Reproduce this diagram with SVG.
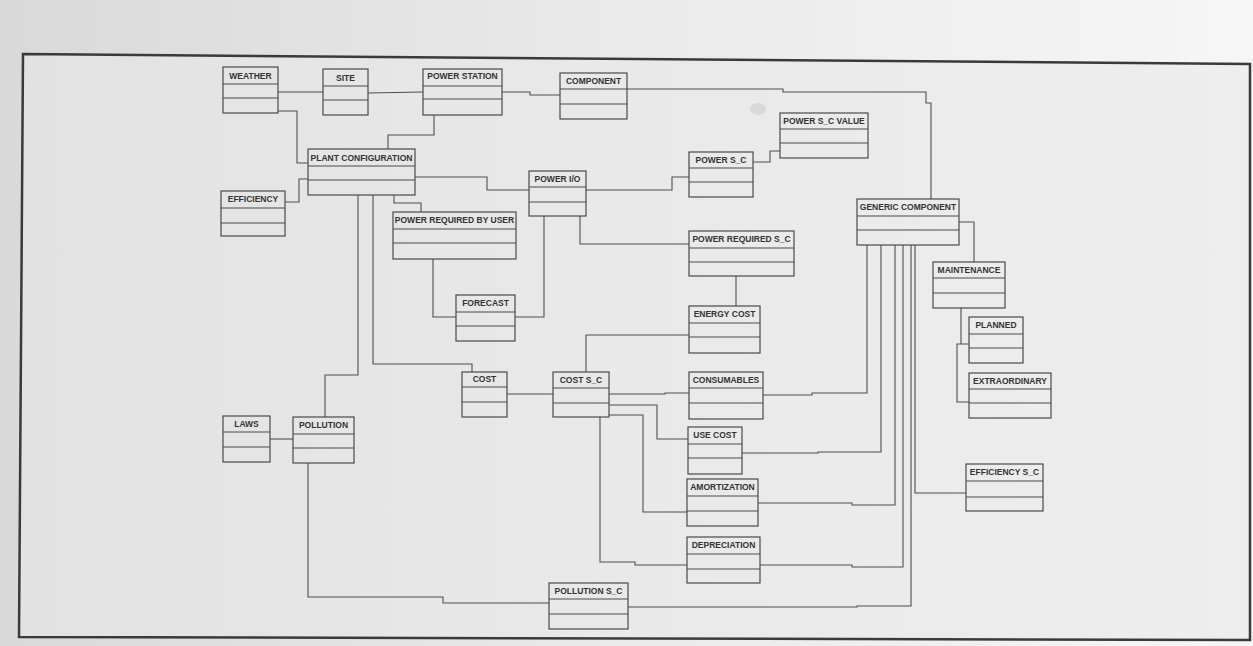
<svg xmlns="http://www.w3.org/2000/svg" width="1253" height="646" viewBox="0 0 1253 646">
  <defs>
    <linearGradient id="page" x1="0" y1="0" x2="1" y2="0">
      <stop offset="0" stop-color="#d9d9d9"/>
      <stop offset="0.5" stop-color="#eaeaea"/>
      <stop offset="1" stop-color="#f6f6f6"/>
    </linearGradient>
    <linearGradient id="sheet" x1="0" y1="0" x2="1" y2="0">
      <stop offset="0" stop-color="#e2e2e2"/>
      <stop offset="0.5" stop-color="#e9e9e9"/>
      <stop offset="1" stop-color="#eeeeee"/>
    </linearGradient>
    <style>
      .box { fill: none; stroke: #4a4a4a; stroke-width: 1.2; }
      .div { stroke: #4a4a4a; stroke-width: 1.1; }
      .title { font-family: "Liberation Sans", Arial, sans-serif; font-size: 8.5px; font-weight: bold; fill: #333333; text-anchor: middle; }
      .conn polyline, .conn line { fill: none; stroke: #4f4f4f; stroke-width: 1.1; }
    </style>
  </defs>

  <rect x="0" y="0" width="1253" height="646" fill="url(#page)"/>
  <polygon points="23,54 1250,64 1250,640 19,637" fill="url(#sheet)" stroke="#3a3a3a" stroke-width="2.5"/>
  <ellipse cx="758" cy="109" rx="8" ry="6" fill="#d4d4d4" opacity="0.8"/>

  <g id="connectors" class="conn">
    <line x1="278" y1="92" x2="323" y2="92"/>
    <line x1="368" y1="93" x2="423" y2="92"/>
    <polyline points="502,92 530,92 530,95 560,95"/>
    <polyline points="627,89 783,89 783,92 926,92 926,103 931,103 931,199"/>
    <polyline points="278,111 297,111 297,163 308,163"/>
    <polyline points="434,115 434,135 388,135 388,149"/>
    <polyline points="415,177 487,177 487,190 529,190"/>
    <polyline points="586,190 672,190 672,177 689,177"/>
    <polyline points="753,162 770,162 770,151 780,151"/>
    <polyline points="285,202 299,202 299,179 308,179"/>
    <polyline points="394,195 394,203 421,203 421,212"/>
    <polyline points="358,195 358,375 325,375 325,417"/>
    <polyline points="373,195 373,364 472,364 472,372"/>
    <polyline points="433,259 433,317 456,317"/>
    <polyline points="515,317 544,317 544,216"/>
    <polyline points="580,216 580,244 689,244"/>
    <line x1="736" y1="276" x2="736" y2="306"/>
    <polyline points="689,335 586,335 586,372"/>
    <line x1="507" y1="394" x2="553" y2="394"/>
    <polyline points="609,394 665,394 665,393 689,393"/>
    <polyline points="763,395 812,395 812,393 867,393 867,245"/>
    <polyline points="609,405 657,405 657,439 688,439"/>
    <polyline points="609,415 643,415 643,512 687,512"/>
    <polyline points="600,417 600,562 635,562 635,565 687,565"/>
    <polyline points="742,453 818,453 818,452 881,452 881,245"/>
    <polyline points="758,503 852,503 852,505 895,505 895,245"/>
    <polyline points="760,565 852,565 852,567 903,567 903,245"/>
    <polyline points="628,607 857,607 857,606 911,606 911,245"/>
    <polyline points="915,245 915,493 966,493"/>
    <polyline points="308,463 308,597 443,597 443,603 549,603"/>
    <line x1="270" y1="439" x2="293" y2="439"/>
    <polyline points="959,222 974,222 974,262"/>
    <polyline points="961,308 961,344 969,344"/>
    <polyline points="961,344 957,344 957,402 969,402"/>
  </g>

  <g id="weather"><rect class="box" x="223" y="67" width="55" height="46"/><line class="div" x1="223" y1="84" x2="278" y2="84"/><line class="div" x1="223" y1="98" x2="278" y2="98"/><text class="title" x="250.5" y="79">WEATHER</text></g>
  <g id="site"><rect class="box" x="323" y="69" width="45" height="46"/><line class="div" x1="323" y1="86" x2="368" y2="86"/><line class="div" x1="323" y1="100" x2="368" y2="100"/><text class="title" x="345.5" y="81">SITE</text></g>
  <g id="power-station"><rect class="box" x="423" y="69" width="79" height="46"/><line class="div" x1="423" y1="86" x2="502" y2="86"/><line class="div" x1="423" y1="99" x2="502" y2="99"/><text class="title" x="462.5" y="79">POWER STATION</text></g>
  <g id="component"><rect class="box" x="560" y="73" width="67" height="46"/><line class="div" x1="560" y1="89" x2="627" y2="89"/><line class="div" x1="560" y1="104" x2="627" y2="104"/><text class="title" x="593.5" y="84">COMPONENT</text></g>
  <g id="plant-configuration"><rect class="box" x="308" y="149" width="107" height="46"/><line class="div" x1="308" y1="166" x2="415" y2="166"/><line class="div" x1="308" y1="180" x2="415" y2="180"/><text class="title" x="361.5" y="161">PLANT CONFIGURATION</text></g>
  <g id="power-io"><rect class="box" x="529" y="171" width="57" height="45"/><line class="div" x1="529" y1="187" x2="586" y2="187"/><line class="div" x1="529" y1="202" x2="586" y2="202"/><text class="title" x="557.5" y="182">POWER I/O</text></g>
  <g id="power-sc"><rect class="box" x="689" y="152" width="64" height="45"/><line class="div" x1="689" y1="168" x2="753" y2="168"/><line class="div" x1="689" y1="182" x2="753" y2="182"/><text class="title" x="721" y="163">POWER S_C</text></g>
  <g id="power-sc-value"><rect class="box" x="780" y="113" width="88" height="45"/><line class="div" x1="780" y1="129" x2="868" y2="129"/><line class="div" x1="780" y1="143" x2="868" y2="143"/><text class="title" x="824" y="124">POWER S_C VALUE</text></g>
  <g id="generic-component"><rect class="box" x="857" y="199" width="102" height="46"/><line class="div" x1="857" y1="216" x2="959" y2="216"/><line class="div" x1="857" y1="230" x2="959" y2="230"/><text class="title" x="908" y="210">GENERIC COMPONENT</text></g>
  <g id="maintenance"><rect class="box" x="933" y="262" width="72" height="46"/><line class="div" x1="933" y1="278" x2="1005" y2="278"/><line class="div" x1="933" y1="293" x2="1005" y2="293"/><text class="title" x="969" y="273">MAINTENANCE</text></g>
  <g id="planned"><rect class="box" x="969" y="317" width="54" height="46"/><line class="div" x1="969" y1="334" x2="1023" y2="334"/><line class="div" x1="969" y1="348" x2="1023" y2="348"/><text class="title" x="996" y="328">PLANNED</text></g>
  <g id="extraordinary"><rect class="box" x="969" y="373" width="82" height="45"/><line class="div" x1="969" y1="389" x2="1051" y2="389"/><line class="div" x1="969" y1="403" x2="1051" y2="403"/><text class="title" x="1010" y="384">EXTRAORDINARY</text></g>
  <g id="efficiency"><rect class="box" x="221" y="191" width="64" height="45"/><line class="div" x1="221" y1="208" x2="285" y2="208"/><line class="div" x1="221" y1="223" x2="285" y2="223"/><text class="title" x="253" y="202">EFFICIENCY</text></g>
  <g id="power-required-by-user"><rect class="box" x="393" y="212" width="123" height="47"/><line class="div" x1="393" y1="229" x2="516" y2="229"/><line class="div" x1="393" y1="243" x2="516" y2="243"/><text class="title" x="454.5" y="223">POWER REQUIRED BY USER</text></g>
  <g id="forecast"><rect class="box" x="456" y="295" width="59" height="46"/><line class="div" x1="456" y1="312" x2="515" y2="312"/><line class="div" x1="456" y1="326" x2="515" y2="326"/><text class="title" x="485.5" y="306">FORECAST</text></g>
  <g id="power-required-sc"><rect class="box" x="689" y="231" width="105" height="45"/><line class="div" x1="689" y1="248" x2="794" y2="248"/><line class="div" x1="689" y1="262" x2="794" y2="262"/><text class="title" x="741.5" y="242">POWER REQUIRED S_C</text></g>
  <g id="energy-cost"><rect class="box" x="689" y="306" width="71" height="47"/><line class="div" x1="689" y1="323" x2="760" y2="323"/><line class="div" x1="689" y1="337" x2="760" y2="337"/><text class="title" x="724.5" y="317">ENERGY COST</text></g>
  <g id="consumables"><rect class="box" x="689" y="372" width="74" height="47"/><line class="div" x1="689" y1="388" x2="763" y2="388"/><line class="div" x1="689" y1="403" x2="763" y2="403"/><text class="title" x="726" y="383">CONSUMABLES</text></g>
  <g id="cost-sc"><rect class="box" x="553" y="372" width="56" height="45"/><line class="div" x1="553" y1="388" x2="609" y2="388"/><line class="div" x1="553" y1="403" x2="609" y2="403"/><text class="title" x="581" y="383">COST S_C</text></g>
  <g id="cost"><rect class="box" x="462" y="372" width="45" height="45"/><line class="div" x1="462" y1="387" x2="507" y2="387"/><line class="div" x1="462" y1="402" x2="507" y2="402"/><text class="title" x="484.5" y="382">COST</text></g>
  <g id="laws"><rect class="box" x="223" y="416" width="47" height="46"/><line class="div" x1="223" y1="432" x2="270" y2="432"/><line class="div" x1="223" y1="447" x2="270" y2="447"/><text class="title" x="246.5" y="427">LAWS</text></g>
  <g id="pollution"><rect class="box" x="293" y="417" width="61" height="46"/><line class="div" x1="293" y1="434" x2="354" y2="434"/><line class="div" x1="293" y1="448" x2="354" y2="448"/><text class="title" x="323.5" y="428">POLLUTION</text></g>
  <g id="pollution-sc"><rect class="box" x="549" y="583" width="79" height="46"/><line class="div" x1="549" y1="599" x2="628" y2="599"/><line class="div" x1="549" y1="614" x2="628" y2="614"/><text class="title" x="588.5" y="594">POLLUTION S_C</text></g>
  <g id="use-cost"><rect class="box" x="688" y="427" width="54" height="47"/><line class="div" x1="688" y1="444" x2="742" y2="444"/><line class="div" x1="688" y1="458" x2="742" y2="458"/><text class="title" x="715" y="438">USE COST</text></g>
  <g id="amortization"><rect class="box" x="687" y="479" width="71" height="47"/><line class="div" x1="687" y1="496" x2="758" y2="496"/><line class="div" x1="687" y1="511" x2="758" y2="511"/><text class="title" x="722.5" y="490">AMORTIZATION</text></g>
  <g id="depreciation"><rect class="box" x="687" y="537" width="73" height="46"/><line class="div" x1="687" y1="554" x2="760" y2="554"/><line class="div" x1="687" y1="569" x2="760" y2="569"/><text class="title" x="723.5" y="548">DEPRECIATION</text></g>
  <g id="efficiency-sc"><rect class="box" x="966" y="464" width="77" height="47"/><line class="div" x1="966" y1="481" x2="1043" y2="481"/><line class="div" x1="966" y1="497" x2="1043" y2="497"/><text class="title" x="1004.5" y="475">EFFICIENCY S_C</text></g>
</svg>
